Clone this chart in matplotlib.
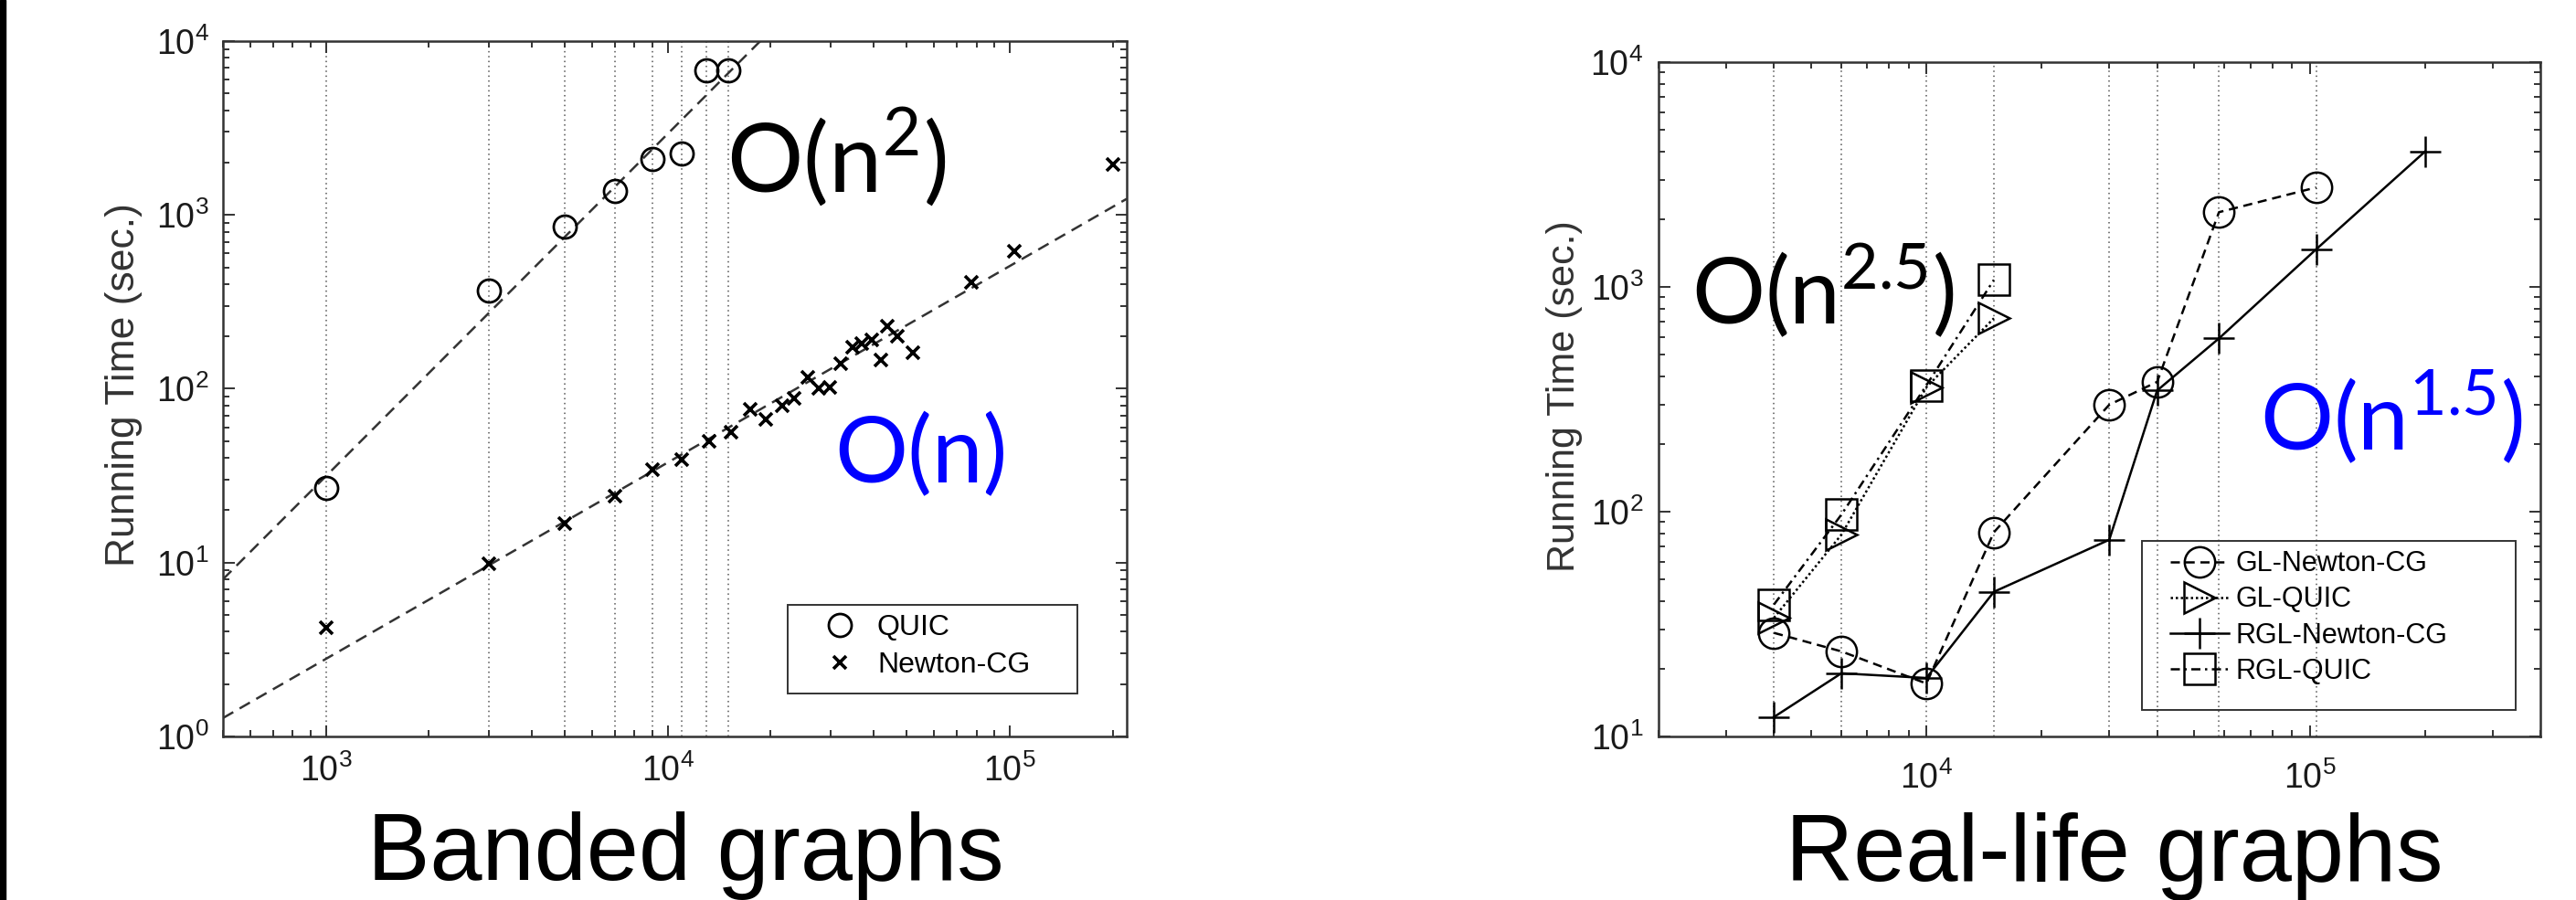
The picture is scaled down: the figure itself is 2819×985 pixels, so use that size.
import numpy as np
import matplotlib.pyplot as plt
from matplotlib.patches import Rectangle
from matplotlib.ticker import NullFormatter

plt.rcParams['font.family'] = ['Liberation Sans', 'DejaVu Sans']

# --- banded graphs (left) ---
quic_n = [1000, 3000, 5000, 7000, 9000, 11000, 13000, 15000]
quic_t = [27, 366, 855, 1370, 2090, 2250, 6800, 6800]
ncg_n = [1000, 3000, 5000, 7000, 9000, 11000, 13200, 15300, 17400, 19400,
         21600, 23400, 25700, 27700, 29800, 32100, 34800, 37000, 39600,
         41900, 44000, 46800, 52000, 77100, 103000, 200000]
ncg_t = [4.2, 9.8, 16.8, 24.2, 34.4, 39, 50, 56, 76.6, 67,
         80, 88.6, 116, 100, 102, 140, 173, 183, 190,
         147, 228, 200, 162, 408, 617, 1950]

# --- real-life graphs (right) ---
real_n = [4000, 6000, 10000, 15000, 30000, 40000, 58000, 104000]
gl_ncg_t = [28.9, 23.9, 17.2, 81, 299, 378, 2150, 2770]
quic_real_n = [4000, 6000, 10000, 15000]
gl_quic_t = [33.7, 79, 358, 725]
rgl_quic_t = [38.6, 97, 365, 1075]
rgl_ncg_n = [4000, 6000, 10000, 15000, 30000, 40000, 58000, 104000, 200000]
rgl_ncg_t = [12.2, 19.1, 18.2, 44, 75, 346, 590, 1470, 4000]

W, H = 2819, 985
ink = '#333333'


def loglog_fit(x, y, xr):
    k, b = np.polyfit(np.log10(x), np.log10(y), 1)
    xr = np.array(xr, dtype=float)
    return xr, 10 ** (k * np.log10(xr) + b)


def style_axes(ax, xpad, ypad):
    ax.set_xscale('log')
    ax.set_yscale('log')
    for s in ax.spines.values():
        s.set_color(ink)
        s.set_linewidth(1.8)
    ax.tick_params(which='both', direction='in', top=True, right=True,
                   colors=ink, labelcolor='#1a1a1a', labelsize=27, width=1.4)
    ax.tick_params(which='major', length=9)
    ax.tick_params(which='minor', length=5)
    ax.tick_params(axis='x', pad=xpad)
    ax.tick_params(axis='y', pad=ypad)
    ax.xaxis.set_minor_formatter(NullFormatter())
    ax.yaxis.set_minor_formatter(NullFormatter())


fig = plt.figure(figsize=(W / 100, H / 100), dpi=100)
fig.patches.append(Rectangle((0, 0), 6 / W, 1, transform=fig.transFigure,
                             color='black', zorder=0))

# left panel
ax1 = fig.add_axes([244 / W, 1 - 806 / H, 989 / W, 761 / H])
style_axes(ax1, 14, 11)
ax1.set_xlim(500, 2.2e5)
ax1.set_ylim(1, 1e4)
for n in quic_n:
    ax1.axvline(n, color='#555555', lw=1.1, ls=(0, (1, 2.5)), zorder=1)
fx, fy = loglog_fit(quic_n, quic_t, ax1.get_xlim())
ax1.plot(fx, fy, color=ink, lw=1.8, ls=(0, (5.2, 3.2)), zorder=2)
fx, fy = loglog_fit(ncg_n, ncg_t, ax1.get_xlim())
ax1.plot(fx, fy, color=ink, lw=1.8, ls=(0, (5.2, 3.2)), zorder=2)
h1, = ax1.plot(quic_n, quic_t, 'o', ms=18, mfc='none', mec='black', mew=2.0,
               label='QUIC', zorder=3)
h2, = ax1.plot(ncg_n, ncg_t, 'x', ms=10, mec='black', mew=2.6,
               label='Newton-CG', zorder=3)
ax1.add_patch(Rectangle((0.625, 0.0618), 0.32, 0.127, transform=ax1.transAxes,
                        fill=False, ec=ink, lw=1.4, zorder=4))
ax1.legend(handles=[h1, h2], loc='upper left', bbox_to_anchor=(0.657, 0.176),
           frameon=False, borderpad=0, borderaxespad=0, handlelength=1.6,
           handletextpad=0.47, labelspacing=0.35, fontsize=23)

# right panel
ax2 = fig.add_axes([1815 / W, 1 - 806 / H, 965 / W, 738 / H])
style_axes(ax2, 20, 12)
ax2.set_xlim(2000, 4e5)
ax2.set_ylim(10, 1e4)
for n in real_n:
    ax2.axvline(n, color='#555555', lw=1.1, ls=(0, (1, 2.5)), zorder=1)
kw = dict(color='black', mfc='none', mec='black', lw=1.8, mew=1.8, zorder=3)
g1, = ax2.plot(real_n, gl_ncg_t, marker='o', ms=24, ls=(0, (4, 2.5)),
               label='GL-Newton-CG', **kw)
g2, = ax2.plot(quic_real_n, gl_quic_t, marker='>', ms=25, ls=(0, (1, 1.2)),
               label='GL-QUIC', **kw)
g3, = ax2.plot(rgl_ncg_n, rgl_ncg_t, marker='+', ms=25, ls='-',
               label='RGL-Newton-CG', **kw)
g4, = ax2.plot(quic_real_n, rgl_quic_t, marker='s', ms=24, ls=(0, (4, 2, 1, 2)),
               label='RGL-QUIC', **kw)
ax2.add_patch(Rectangle((0.548, 0.0393), 0.424, 0.251, transform=ax2.transAxes,
                        fill=False, ec=ink, lw=1.4, zorder=4))
ax2.legend(handles=[g1, g2, g3, g4], loc='upper left',
           bbox_to_anchor=(0.580, 0.276), frameon=False, borderpad=0,
           borderaxespad=0, handlelength=2.1, handletextpad=0.25,
           labelspacing=0.3, fontsize=22)

# axis labels
fig.text(136 / W, 1 - 421 / H, 'Running Time (sec.)', rotation=90,
         ha='center', va='center', fontsize=32, color=ink)
fig.text(1712 / W, 1 - 434 / H, 'Running Time (sec.)', rotation=90,
         ha='center', va='center', fontsize=31, color=ink)

# complexity annotations
gill = ['Lato', 'DejaVu Sans']
fig.text(795 / W, 1 - 210 / H, r'O(n$^{\mathregular{2}}$)', family=gill,
         fontsize=75, color='black', ha='left', va='baseline')
fig.text(913 / W, 1 - 528 / H, 'O(n)', family=gill,
         fontsize=72, color='#0000ff', ha='left', va='baseline')
fig.text(1851 / W, 1 - 355 / H, r'O(n$^{\mathregular{2.5}}$)', family=gill,
         fontsize=72, color='black', ha='left', va='baseline')
fig.text(2473 / W, 1 - 493 / H, r'O(n$^{\mathregular{1.5}}$)', family=gill,
         fontsize=72, color='#0000ff', ha='left', va='baseline')

# panel captions
fig.text(750 / W, 1 - 963 / H, 'Banded graphs', ha='center', va='baseline',
         fontsize=74, color='black')
fig.text(2314 / W, 1 - 964 / H, 'Real-life graphs', ha='center', va='baseline',
         fontsize=74, color='black')

fig.savefig('out.png', dpi=100, facecolor='white')
